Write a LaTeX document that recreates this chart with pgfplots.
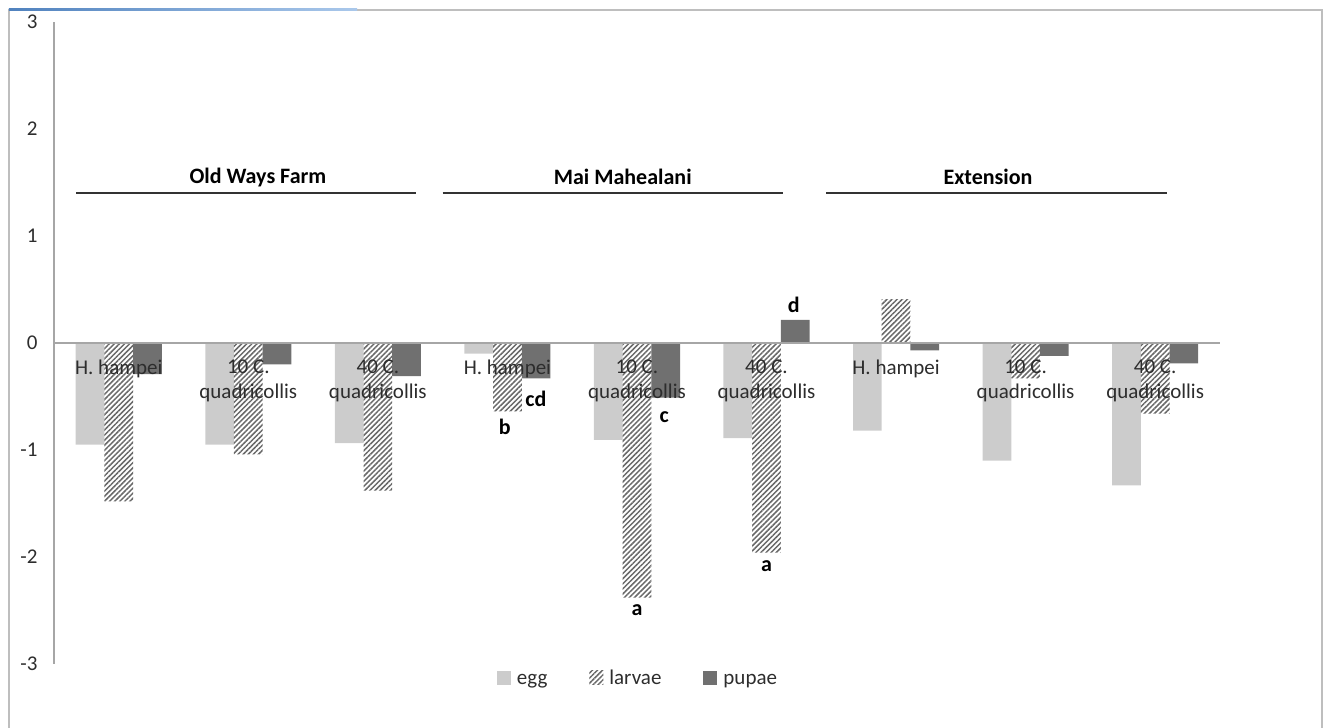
\documentclass[border=0pt]{standalone}
\usepackage{fontspec}
\setmainfont{Carlito}
\usepackage{pgfplots}
\pgfplotsset{compat=1.18}
\usetikzlibrary{patterns.meta}
\definecolor{eggc}{RGB}{204,204,204}
\definecolor{pupc}{RGB}{112,112,112}
\definecolor{hatchc}{RGB}{105,105,105}
\definecolor{axc}{RGB}{166,166,166}
\definecolor{txt}{RGB}{45,45,45}
\definecolor{brd}{RGB}{190,190,190}
\definecolor{blueA}{RGB}{80,130,190}
\definecolor{blueB}{RGB}{170,200,235}
\newcommand{\fs}{\fontsize{21}{25}\selectfont}
\newcommand{\fb}{\bfseries\fontsize{22}{25}\selectfont}
\pgfplotsset{sqlegend/.style={legend image code/.code={\path[##1] (0pt,0pt) rectangle (14pt,14pt);}}}
\begin{document}
\begin{tikzpicture}[font=\fs]
\useasboundingbox (-54pt,-64pt) rectangle (1269pt,664pt);
\draw[brd, line width=1.2pt] (-45pt,-70pt) -- (-45pt,654pt) -- (1268pt,654pt) -- (1268pt,-70pt);
\shade[left color=blueA, right color=blueB] (-45pt,653.2pt) rectangle (303pt,655.2pt);
\begin{axis}[
  scale only axis, width=1166pt, height=642pt,
  xmin=-0.5, xmax=8.5, ymin=-3, ymax=3,
  axis on top,
  axis x line=middle, axis y line=left,
  axis line style={-, draw=axc, line width=1.2pt},
  hide obscured x ticks=false, hide obscured y ticks=false,
  xtick={0,...,8},
  xticklabels={{H. hampei},{10 C.\\quadricollis},{40 C.\\quadricollis},{H. hampei},{10 C.\\quadricollis},{40 C.\\quadricollis},{H. hampei},{10 C.\\quadricollis},{40 C.\\quadricollis}},
  xticklabel style={align=center, text=txt, anchor=north, yshift=-13pt, font=\fs},
  major tick length=0pt,
  ytick={-3,-2,-1,0,1,2,3},
  yticklabels={-3,-2,-1,0,1,2,3},
  yticklabel style={text=txt, anchor=east, xshift=-13pt, font=\fs},
  clip=false,
  legend columns=3,
  legend cell align=left,
  legend style={at={(0.5009,-0.0218)}, anchor=center, draw=none, fill=none,
    font=\fs, text=txt, cells={anchor=base west},
    /tikz/every odd column/.append style={column sep=4pt},
    /tikz/every even column/.append style={column sep=40pt}},
]
\addplot[ybar, bar width=0.2215, bar shift=-0.2215, fill=eggc, draw=none, sqlegend]
  coordinates {(0,-0.95) (1,-0.95) (2,-0.935) (3,-0.10) (4,-0.906) (5,-0.89) (6,-0.82) (7,-1.10) (8,-1.33)};
\addlegendentry{egg}
\addplot[ybar, bar width=0.2215, bar shift=0, draw=none,
  pattern={Lines[angle=45, distance=3.6pt, line width=1.5pt]}, pattern color=hatchc, sqlegend]
  coordinates {(0,-1.48) (1,-1.04) (2,-1.38) (3,-0.64) (4,-2.38) (5,-1.96) (6,0.41) (7,-0.33) (8,-0.66)};
\addlegendentry{larvae}
\addplot[ybar, bar width=0.2215, bar shift=0.2215, fill=pupc, draw=none, sqlegend]
  coordinates {(0,-0.29) (1,-0.20) (2,-0.31) (3,-0.33) (4,-0.51) (5,0.215) (6,-0.07) (7,-0.12) (8,-0.19)};
\addlegendentry{pupae}
% group headers
\draw[black!80, line width=1.4pt] (axis cs:-0.330,1.40) -- (axis cs:2.293,1.40);
\draw[black!80, line width=1.4pt] (axis cs:2.50,1.40) -- (axis cs:5.13,1.40);
\draw[black!80, line width=1.4pt] (axis cs:5.46,1.40) -- (axis cs:8.09,1.40);
\node[font=\fb] at (axis cs:1.074,1.551) {Old Ways Farm};
\node[font=\fb] at (axis cs:3.89,1.551) {Mai Mahealani};
\node[font=\fb] at (axis cs:6.71,1.551) {Extension};
% significance letters
\node[font=\fb] at (axis cs:2.98,-0.78) {b};
\node[font=\fb] at (axis cs:3.22,-0.52) {cd};
\node[font=\fb] at (axis cs:4.21,-0.69) {c};
\node[font=\fb] at (axis cs:4.0,-2.50) {a};
\node[font=\fb] at (axis cs:5.21,0.355) {d};
\node[font=\fb] at (axis cs:5.0,-2.09) {a};
\end{axis}
\end{tikzpicture}
\end{document}
